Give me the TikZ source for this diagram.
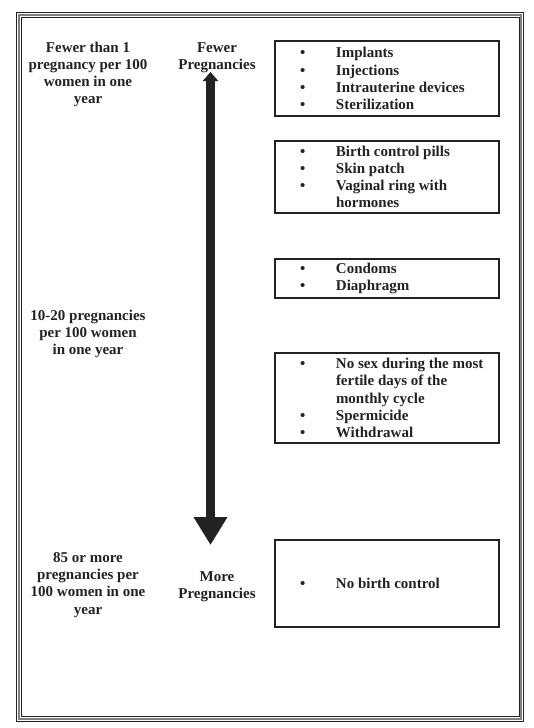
\documentclass[tikz,border=0pt]{standalone}
\usepackage{fontspec}
\setmainfont{Liberation Serif}
\usetikzlibrary{arrows.meta}
\definecolor{ink}{HTML}{222222}
\newcommand{\bitem}[1]{\hspace*{23pt}\makebox[36pt][l]{\textbullet}#1}
\newcommand{\bcont}[1]{\hspace*{59pt}#1}

\begin{document}
\begin{tikzpicture}
	[x=1pt,y=-1pt,
	every node/.style={font=\fontsize{15}{17.2}\selectfont\bfseries,text=ink,align=center,inner sep=0pt},
	method/.style={draw=ink,line width=1.6pt,rectangle,minimum width=224pt,text width=220pt,inner xsep=2pt,align=flush left},
	frame/.style={draw=ink,line width=0.9pt}]
	\useasboundingbox (0,0) rectangle (534,728);
	% double frame round the page
	\draw [frame] (16.5,12.5) rectangle (523.5,721);
	\draw [gray,line width=2pt] (19,15) rectangle (521,718.5);
	\draw [frame] (21,17) rectangle (519,716.5);
	% rates
	\node (rate1) at (88,74.5) {Fewer than 1\\pregnancy per 100\\women in one\\year};
	\node (rate2) at (88,334) {10-20 pregnancies\\per 100 women\\in one year};
	\node (rate3) at (88,585) {85 or more\\pregnancies per\\100 women in one\\year};
	\node (fewer) at (217,58) {Fewer\\Pregnancies};
	\node (more) at (217,586.5) {More\\Pregnancies};
	% methods
	\node (tier1) [method,minimum height=75pt] at (387,78.5)
	{\bitem{Implants}\\\bitem{Injections}\\\bitem{Intrauterine devices}\\\bitem{Sterilization}};
	\node (tier2) [method,minimum height=72pt] at (387,177)
	{\bitem{Birth control pills}\\\bitem{Skin patch}\\\bitem{Vaginal ring with}\\\bcont{hormones}};
	\node (tier3) [method,minimum height=39pt] at (387,278.5)
	{\bitem{Condoms}\\\bitem{Diaphragm}};
	\node (tier4) [method,minimum height=90pt] at (387,398)
	{\bitem{No sex during the most}\\\bcont{fertile days of the}\\\bcont{monthly cycle}\\\bitem{Spermicide}\\\bitem{Withdrawal}};
	\node (tier5) [method,minimum height=87pt] at (387,583.5)
	{\bitem{No birth control}};
	% arrow
	\coordinate (arrtop) at (210.5,72);
	\coordinate (arrbot) at (210.5,545);
	\draw [ink,line width=9pt,{Triangle[width=15pt,length=9pt]}-{Triangle[width=32pt,length=28pt]}] (arrtop) -- (arrbot);
\end{tikzpicture}
\end{document}
